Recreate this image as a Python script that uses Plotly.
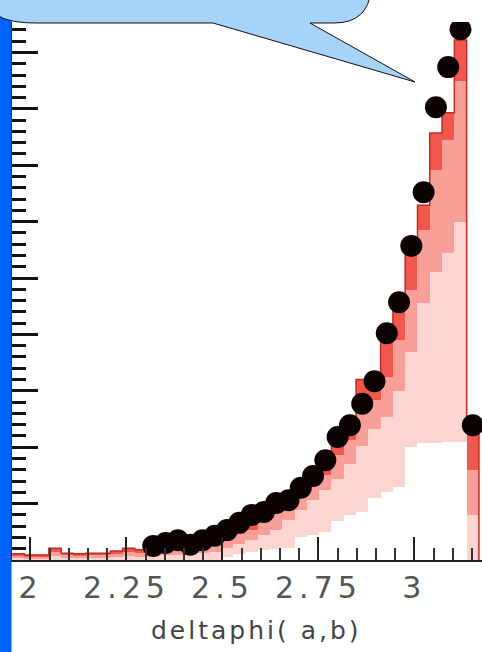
import plotly.graph_objects as go

# ---- histogram binning (bin width 0.032, bins 61..98) ----
BIN_WIDTH = 0.032
bin_index = list(range(61, 99))
bin_left = [round(BIN_WIDTH * k, 3) for k in bin_index]
bin_center = [round(b + BIN_WIDTH / 2, 3) for b in bin_left]

# stacked simulation components (bottom to top)
comp_base = [0, 0, 0, 0, 0, 0, 0, 0, 0, 0, 0, 0, 0, 0, 0, 0, 0,
             5, 10, 15, 18, 20, 22, 40, 45, 50, 70, 80, 85, 110, 120, 130,
             200, 207, 207, 210, 210, 0]
comp_pale = [4, 3, 3, 7, 4, 4, 4, 4, 5, 7, 6, 7, 8, 9, 11, 13, 14,
             16, 18, 20, 26, 33, 49, 49, 61, 74, 74, 90, 118, 122, 134, 170,
             169, 248, 304, 335, 390, 80]
comp_pink = [3, 3, 3, 7, 4, 3, 4, 4, 5, 7, 6, 7, 8, 9, 11, 13, 15,
             16, 18, 18, 27, 36, 26, 26, 27, 27, 42, 43, 81, 52, 70, 90,
             110, 130, 180, 200, 250, 80]
comp_red = [4, 3, 3, 7, 4, 4, 4, 4, 6, 7, 6, 7, 9, 10, 12, 13, 15,
            16, 16, 21, 14, 8, 9, 9, 12, 17, 18, 17, 36, 48, 66, 62,
            65, 44, 66, 48, 72, 70]

# measured data points (bins 72..98)
data_first_bin = 72
data_values = [25, 30, 35, 27, 35, 43, 53, 66, 80, 85, 101, 106, 128, 149,
               177, 218, 239, 277, 317, 402, 457, 557, 652, 803, 874, 941, 239]
data_x = bin_center[bin_index.index(data_first_bin):]

x_ticks = [2, 2.25, 2.5, 2.75, 3]
x_tick_text = ["2", "2.25", "2.5", "2.75", "3"]

X_RANGE = [1.952, 3.176]
Y_RANGE = [0, 954]

W, H = 482, 652
ML, MR, MT, MB = 12, 0, 22, 92
PW, PH = W - ML - MR, H - MT - MB


def px(x):
    return (x - ML) / PW


def py(y):
    return (H - MB - y) / PH


fig = go.Figure()

layers = [
    ("base", comp_base, "#ffffff"),
    ("pale", comp_pale, "#fcd5d1"),
    ("pink", comp_pink, "#f8a098"),
    ("red", comp_red, "#f2574c"),
]
for name, vals, col in layers:
    fig.add_trace(go.Bar(
        x=bin_center, y=vals, width=BIN_WIDTH, name=name,
        marker=dict(color=col, line=dict(width=0)),
        showlegend=False, hoverinfo="skip",
    ))

# outline of the summed histogram
totals = [a + b + c + d for a, b, c, d in zip(comp_base, comp_pale, comp_pink, comp_red)]
edge_x = bin_left + [round(bin_left[-1] + BIN_WIDTH, 3), round(bin_left[-1] + BIN_WIDTH, 3)]
edge_y = totals + [totals[-1], 0]
fig.add_trace(go.Scatter(
    x=edge_x, y=edge_y, mode="lines", line=dict(shape="hv", color="#c42a24", width=1.5),
    showlegend=False, hoverinfo="skip",
))

fig.add_trace(go.Scatter(
    x=data_x, y=data_values, mode="markers",
    marker=dict(size=22, color="#0c0202", line=dict(width=0)),
    showlegend=False,
))

fig.update_layout(
    width=W, height=H,
    margin=dict(l=ML, r=MR, t=MT, b=MB, pad=0),
    paper_bgcolor="white", plot_bgcolor="white",
    barmode="stack", bargap=0,
    xaxis=dict(
        range=X_RANGE, tickmode="array", tickvals=x_ticks, ticktext=x_tick_text,
        ticks="inside", ticklen=23, tickwidth=2, tickcolor="#222",
        minor=dict(ticks="inside", ticklen=12, tickwidth=2, tickcolor="#333",
                   dtick=0.05, tick0=2, showgrid=False),
        showline=True, linewidth=2, linecolor="#222",
        showgrid=False, zeroline=False,
        tickfont=dict(family="DejaVu Sans", size=30, color="#555"),
    ),
    xaxis2=dict(
        overlaying="x", side="top", range=X_RANGE, matches="x",
        tick0=2, dtick=0.25, ticks="outside", ticklen=20, tickwidth=2, tickcolor="#222",
        minor=dict(ticks="outside", ticklen=9, tickwidth=2, tickcolor="#333",
                   dtick=0.05, tick0=2, showgrid=False),
        showline=True, linewidth=2, linecolor="#222",
        showgrid=False, zeroline=False, showticklabels=False,
    ),
    yaxis=dict(
        range=Y_RANGE, tick0=0, dtick=100,
        ticks="inside", ticklen=26, tickwidth=3, tickcolor="#111",
        minor=dict(ticks="inside", ticklen=14, tickwidth=3, tickcolor="#111",
                   dtick=20, tick0=0, showgrid=False),
        showline=True, linewidth=2, linecolor="#111",
        showgrid=False, zeroline=False, showticklabels=False,
    ),
    yaxis2=dict(
        overlaying="y", side="right", range=Y_RANGE, matches="y",
        tick0=0, dtick=100, ticks="inside", ticklen=14, tickwidth=3, tickcolor="#111",
        minor=dict(ticks="inside", ticklen=6, tickwidth=3, tickcolor="#111",
                   dtick=20, tick0=0, showgrid=False),
        showline=False, showgrid=False, zeroline=False, showticklabels=False,
    ),
)

# axis title
fig.add_annotation(
    x=px(256), y=py(630), xref="paper", yref="paper", text="deltaphi( a,b)",
    showarrow=False, font=dict(family="DejaVu Sans", size=25, color="#444"),
    xanchor="center", yanchor="middle",
)

# blue side bar
fig.add_shape(type="rect", xref="paper", yref="paper",
              x0=px(0), x1=px(11.5), y0=py(H), y1=py(0),
              fillcolor="#0062ff", line=dict(width=0), layer="above")

# speech-bubble callout
pts = [
    ("M", [(-10, -10)]),
    ("L", [(-10, 6)]),
    ("Q", [(-4, 23), (36, 23)]),
    ("L", [(213, 23)]),
    ("L", [(415, 82)]),
    ("L", [(310, 23)]),
    ("L", [(334, 23)]),
    ("Q", [(368, 23), (371, -10)]),
]
path = ""
for cmd, coords in pts:
    path += cmd + " " + " ".join(f"{px(a):.5f},{py(b):.5f}" for a, b in coords) + " "
path += "Z"
fig.add_shape(type="path", path=path, xref="paper", yref="paper",
              fillcolor="#a6d3f9", line=dict(color="#111", width=1), layer="above")

# wider letter spacing for the axis labels
spacing_js = """
var gd = document.getElementById('{plot_id}');
function spaceLabels() {
  gd.querySelectorAll('.xtick text').forEach(function (t) { t.style.letterSpacing = '5px'; });
  gd.querySelectorAll('.annotation-text').forEach(function (t) { t.style.letterSpacing = '3px'; });
}
spaceLabels();
gd.on('plotly_afterplot', spaceLabels);
"""

fig.write_html("out.html", post_script=spacing_js)
